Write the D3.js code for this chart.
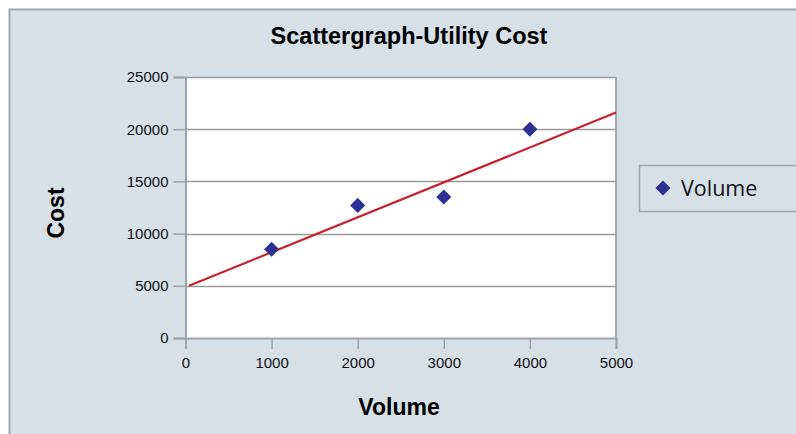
<!DOCTYPE html>
<html>
<head>
<meta charset="utf-8">
<script src="https://cdn.jsdelivr.net/npm/d3@7"></script>
<style>
  html, body { margin: 0; padding: 0; background: #ffffff; }
  svg { display: block; }
</style>
</head>
<body>
<svg id="chart" width="796" height="434"></svg>
<script>
// Utility cost observations by activity volume
const volumes = [1000, 2000, 3000, 4000];
const costs = [8500, 12700, 13500, 20000];
// Fitted cost line, drawn from its two end points
const trendVolumes = [40, 5000];
const trendCosts = [5000, 21600];
const xTicks = [0, 1000, 2000, 3000, 4000, 5000];
const yTicks = [0, 5000, 10000, 15000, 20000, 25000];
const seriesName = "Volume";

const svg = d3.select("#chart");
const W = 796, H = 434;

// Outer chart panel
svg.append("rect")
  .attr("x", 9.5).attr("y", 9.5)
  .attr("width", W).attr("height", H)
  .attr("fill", "#d7dfe7")
  .attr("stroke", "#a2a6aa").attr("stroke-width", 2);

const plot = { left: 185.5, right: 616, top: 77, bottom: 338 };

const x = d3.scaleLinear().domain([0, 5000]).range([plot.left, plot.right]);
const y = d3.scaleLinear().domain([0, 25000]).range([plot.bottom, plot.top]);

// Plot area
svg.append("rect")
  .attr("x", plot.left).attr("y", plot.top)
  .attr("width", plot.right - plot.left).attr("height", plot.bottom - plot.top)
  .attr("fill", "#ffffff");

// Horizontal gridlines
svg.append("g")
  .selectAll("line")
  .data(yTicks.filter(d => d > 0))
  .join("line")
  .attr("x1", plot.left).attr("x2", plot.right)
  .attr("y1", d => Math.round(y(d)) + 0.5).attr("y2", d => Math.round(y(d)) + 0.5)
  .attr("stroke", "#9a9a9a").attr("stroke-width", 1.3);

// Right edge of plot area
svg.append("line")
  .attr("x1", plot.right).attr("x2", plot.right)
  .attr("y1", plot.top).attr("y2", plot.bottom)
  .attr("stroke", "#a5a8ab").attr("stroke-width", 2);

// Axes
const axisFont = "'Liberation Sans', Arial, sans-serif";
const yAxis = svg.append("g")
  .attr("transform", `translate(${plot.left},0)`)
  .call(d3.axisLeft(y).tickValues(yTicks).tickSize(12).tickPadding(5).tickFormat(d3.format("d")));
const xAxis = svg.append("g")
  .attr("transform", `translate(0,${plot.bottom})`)
  .call(d3.axisBottom(x).tickValues(xTicks).tickSize(11).tickPadding(8).tickFormat(d3.format("d")));

[yAxis, xAxis].forEach(g => {
  g.select(".domain").attr("stroke", "#a0a3a6").attr("stroke-width", 2);
  g.selectAll(".tick line").attr("stroke", "#a0a3a6").attr("stroke-width", 1.5);
  g.selectAll(".tick text")
    .attr("fill", "#111")
    .style("font-family", axisFont)
    .style("font-size", "15px");
});

// Trend line
svg.append("line")
  .attr("x1", x(trendVolumes[0])).attr("y1", y(trendCosts[0]))
  .attr("x2", x(trendVolumes[1])).attr("y2", y(trendCosts[1]))
  .attr("stroke", "#c8202e").attr("stroke-width", 2.2);

// Diamond markers
const diamond = d3.symbol().type(d3.symbolDiamond2).size(145);
svg.append("g")
  .selectAll("path")
  .data(volumes.map((v, i) => ({ v, c: costs[i] })))
  .join("path")
  .attr("d", diamond)
  .attr("transform", d => `translate(${x(d.v)},${y(d.c)})`)
  .attr("fill", "#2e3192");

// Title and axis titles
const titleFont = "'Liberation Sans', Arial, sans-serif";
svg.append("text")
  .attr("x", 409).attr("y", 43.5)
  .attr("text-anchor", "middle")
  .style("font-family", titleFont).style("font-weight", "bold").style("font-size", "23.5px")
  .attr("fill", "#000")
  .text("Scattergraph-Utility Cost");

svg.append("text")
  .attr("transform", "translate(63.5,213) rotate(-90)")
  .attr("text-anchor", "middle")
  .style("font-family", titleFont).style("font-weight", "bold").style("font-size", "23px")
  .attr("fill", "#000")
  .text("Cost");

svg.append("text")
  .attr("x", 399).attr("y", 415)
  .attr("text-anchor", "middle")
  .style("font-family", titleFont).style("font-weight", "bold").style("font-size", "23px")
  .attr("fill", "#000")
  .text("Volume");

// Legend
const legend = svg.append("g");
legend.append("rect")
  .attr("x", 639.5).attr("y", 165.5)
  .attr("width", 200).attr("height", 46)
  .attr("fill", "#d7dfe7")
  .attr("stroke", "#a0a3a6").attr("stroke-width", 1.5);
legend.append("path")
  .attr("d", d3.symbol().type(d3.symbolDiamond2).size(145))
  .attr("transform", "translate(663,188)")
  .attr("fill", "#2e3192");
legend.append("text")
  .attr("x", 681).attr("y", 196)
  .style("font-family", "'Open Sans', 'Noto Sans', sans-serif").style("font-size", "21.5px")
  .attr("fill", "#111")
  .text(seriesName);
</script>
</body>
</html>
